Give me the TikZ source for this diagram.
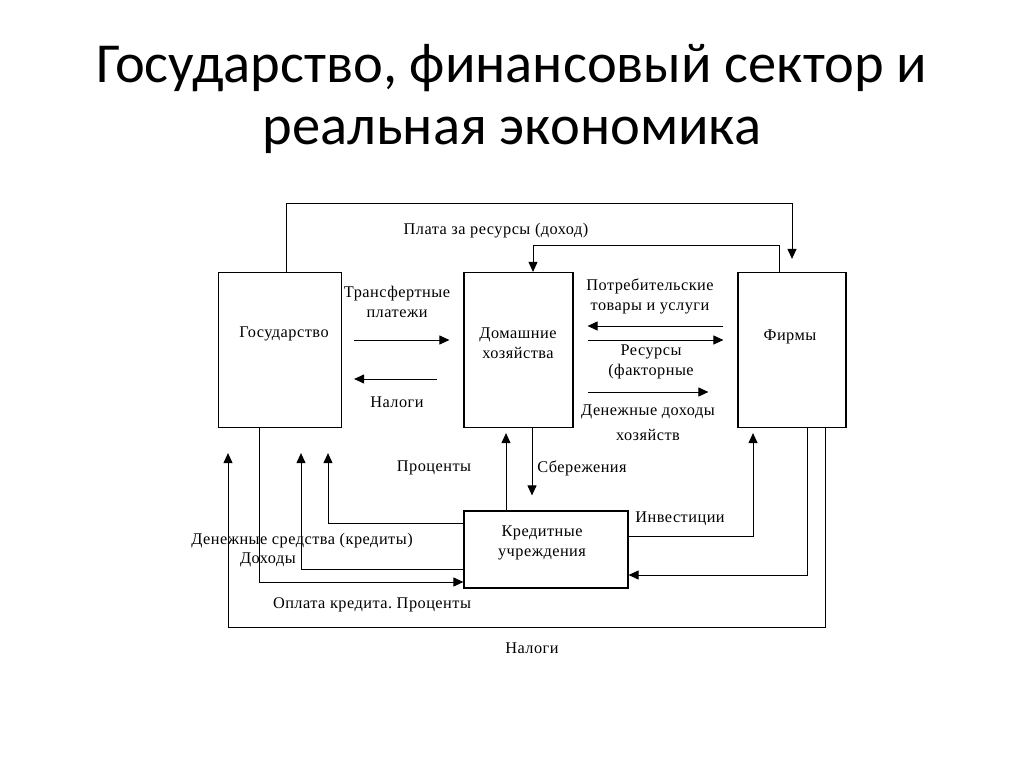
\documentclass[tikz,border=0pt]{standalone}
\usepackage{fontspec}
\setmainfont{Liberation Serif}
\newfontfamily\lblfont[LetterSpace=3]{Liberation Serif}
\newfontfamily\titlefont{Carlito}
\usetikzlibrary{arrows.meta}
\frenchspacing
\tikzset{
  box/.style={draw, line width=1.2pt, inner sep=0pt},
  arr/.style={line width=1pt, -{Triangle[length=10pt,width=9pt]}},
  lbl/.style={font=\lblfont\fontsize{16.3}{20}\selectfont, inner sep=0pt, align=center},
  ttl/.style={font=\titlefont\fontsize{56.5}{62}\selectfont, inner sep=0pt, align=center}
}
\begin{document}
\begin{tikzpicture}[x=1pt,y=-1pt]
\useasboundingbox[fill=white] (0,0) rectangle (1024,767);
\node[ttl] (title) at (512,99) {Государство, финансовый сектор и\\реальная экономика};
% boxes
\node[box, minimum width=123pt, minimum height=155pt] (gov) at (280,350) {};
\node[box, minimum width=109pt, minimum height=155pt] (hh) at (518.5,350) {};
\node[box, minimum width=108pt, minimum height=155pt] (firms) at (792,350) {};
\node[box, minimum width=164pt, minimum height=77pt] (credit) at (546,549.5) {};
% box texts
\node[lbl] (govt) at (284,334) {Государство};
\node[lbl] (hht) at (518,343) {Домашние\\хозяйства};
\node[lbl] (firmst) at (790,337) {Фирмы};
\node[lbl] (creditt) at (542,543) {Кредитные\\учреждения};
% connectors
\draw[arr] ([xshift=6]gov.north) |- (792,204) -- ([yshift=13]firms.north);
\draw[arr] ([xshift=-13]firms.north) -- ++(0,-26) -| ([xshift=14.5]hh.north);
\draw[arr] ([xshift=12,yshift=10]gov.east) -- ([xshift=-14,yshift=10]hh.west);
\draw[arr] ([xshift=-26,yshift=-29]hh.west) -- ([xshift=12,yshift=-29]gov.east);
\draw[arr] ([xshift=-14,yshift=24]firms.west) -- ([xshift=14,yshift=24]hh.east);
\draw[arr] ([xshift=14,yshift=10]hh.east) -- ([xshift=-14,yshift=10]firms.west);
\draw[arr] ([xshift=14,yshift=-42]hh.east) -- ([xshift=-29,yshift=-42]firms.west);
\draw[arr] ([xshift=-21]gov.south) |- ([yshift=-32.5]credit.west);
\draw[arr] ([yshift=-19.5]credit.west) -| ([xshift=21,yshift=-25]gov.south);
\draw[arr] ([yshift=26.5]credit.west) -| ([xshift=48,yshift=-25]gov.south);
\draw[arr] ([xshift=33]firms.south) -- ++(0,199.5) -| ([xshift=-52,yshift=-25]gov.south);
\draw[arr] ([yshift=13.5]credit.east) -| ([xshift=-39,yshift=-5]firms.south);
\draw[arr] ([xshift=15]firms.south) |- ([yshift=-25.5]credit.east);
\draw[arr] ([xshift=-40]credit.north) -- ([xshift=-12.5,yshift=-5]hh.south);
\draw[arr] ([xshift=13.5]hh.south) -- ([xshift=-14,yshift=15]credit.north);
% labels
\node[lbl] (l1) at (496,231) {Плата за ресурсы (доход)};
\node[lbl] (l2) at (397,302) {Трансфертные\\платежи};
\node[lbl] (l3) at (397,402) {Налоги};
\node[lbl] (l4) at (650,296) {Потребительские\\товары и услуги};
\node[lbl] (l5) at (651,362) {Ресурсы\\(факторные};
\node[lbl] (l6) at (648,423) {Денежные доходы\\[5pt]хозяйств};
\node[lbl] (l7) at (434,468) {Проценты};
\node[lbl] (l8) at (582,468) {Сбережения};
\node[lbl] (l9) at (680,519) {Инвестиции};
\node[lbl] (l10) at (302,541) {Денежные средства (кредиты)};
\node[lbl] (l11) at (268,560) {Доходы};
\node[lbl] (l12) at (372,605) {Оплата кредита. Проценты};
\node[lbl] (l13) at (532,648) {Налоги};
\end{tikzpicture}
\end{document}
